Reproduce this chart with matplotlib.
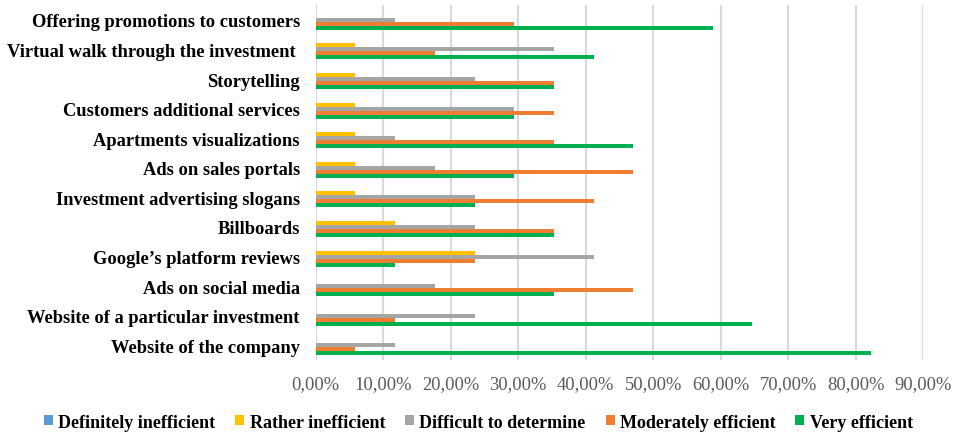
import numpy as np
import matplotlib.pyplot as plt
from matplotlib.ticker import FuncFormatter

plt.rcParams['font.family'] = ['Liberation Serif', 'DejaVu Serif']

# categories from bottom to top
categories = ["Website of the company",
              "Website of a particular investment",
              "Ads on social media",
              "Google\u2019s platform reviews",
              "Billboards",
              "Investment advertising slogans",
              "Ads on sales portals",
              "Apartments visualizations",
              "Customers additional services",
              "Storytelling",
              "Virtual walk through the investment ",
              "Offering promotions to customers"]

series_names = ["Definitely inefficient", "Rather inefficient",
                "Difficult to determine", "Moderately efficient",
                "Very efficient"]

definitely_inefficient = [0, 0, 0, 0, 0, 0, 0, 0, 0, 0, 0, 0]
rather_inefficient = [0, 0, 0, 23.53, 11.76, 5.88, 5.88, 5.88, 5.88, 5.88, 5.88, 0]
difficult = [11.76, 23.53, 17.65, 41.18, 23.53, 23.53, 17.65, 11.76, 29.41, 23.53, 35.29, 11.76]
moderately_efficient = [5.88, 11.76, 47.06, 23.53, 35.29, 41.18, 47.06, 35.29, 35.29, 35.29, 17.65, 29.41]
very_efficient = [82.35, 64.71, 35.29, 11.76, 35.29, 23.53, 29.41, 47.06, 29.41, 35.29, 41.18, 58.82]

series = [definitely_inefficient, rather_inefficient, difficult,
          moderately_efficient, very_efficient]
colors = ["#5B9BD5", "#FFC000", "#A5A5A5", "#ED7D31", "#00B050"]

fig = plt.figure(figsize=(9.57, 4.35), dpi=100)
ax = fig.add_axes([0.330, 0.170, 0.6345, 0.816])

y = np.arange(len(categories))
h = 0.135
for i, (vals, c, name) in enumerate(zip(series, colors, series_names)):
    offset = (2 - i) * h
    ax.barh(y + offset, np.array(vals) / 100, height=h, color=c, label=name, zorder=3)

ax.set_xlim(0, 0.9)
ax.set_ylim(-0.5, len(categories) - 0.5)
ax.set_xticks(np.arange(0, 0.91, 0.1))
ax.xaxis.set_major_formatter(FuncFormatter(lambda v, p: ("%.2f%%" % (v * 100)).replace(".", ",")))
ax.grid(axis="x", color="#D9D9D9", linewidth=1.5, zorder=0)
for s in ax.spines.values():
    s.set_visible(False)
ax.tick_params(axis="x", length=0, pad=11, labelsize=13.3, labelcolor="#595959")
ax.tick_params(axis="y", length=0, pad=11.5)
ax.set_yticks(y)
ax.set_yticklabels(categories, fontsize=13.3, fontweight="bold")

ax.legend(loc="center", bbox_to_anchor=(0.5 * 957 / 607.0 - 316 / 607.0, -0.175),
          ncol=5, frameon=False, prop={"weight": "bold", "size": 13},
          handlelength=0.5, handleheight=0.5, handletextpad=0.3, columnspacing=1.1)

fig.savefig("out.png", dpi=100)
